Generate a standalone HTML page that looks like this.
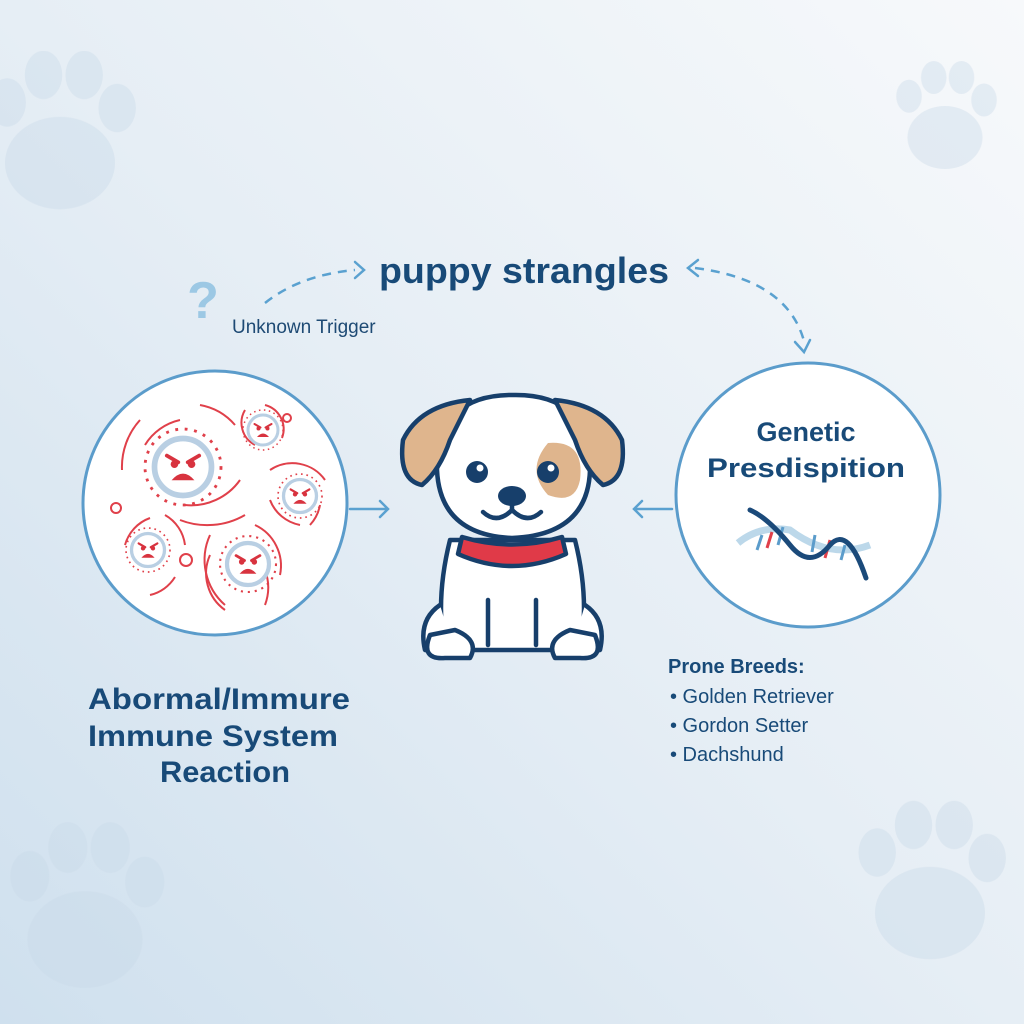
<!DOCTYPE html>
<html><head><meta charset="utf-8"><style>
html,body{margin:0;padding:0;width:1024px;height:1024px;overflow:hidden}
svg{display:block}
text{font-family:"Liberation Sans",sans-serif}
</style></head><body>
<svg width="1024" height="1024" viewBox="0 0 1024 1024" xmlns="http://www.w3.org/2000/svg">
<defs>
<linearGradient id="bg" x1="1" y1="0" x2="0" y2="1">
<stop offset="0" stop-color="#f7f9fb"/><stop offset="0.5" stop-color="#e6eef5"/><stop offset="1" stop-color="#cfe0ee"/>
</linearGradient>
<g id="paw"><ellipse cx="0" cy="30" rx="50" ry="42"/><ellipse cx="-48" cy="-25" rx="17" ry="22"/><ellipse cx="-15" cy="-50" rx="17" ry="22"/><ellipse cx="22" cy="-50" rx="17" ry="22"/><ellipse cx="52" cy="-20" rx="17" ry="22"/></g>
<g id="virus">
<circle r="30" fill="#fff" stroke="#b9cfe3" stroke-width="6"/>
<g stroke="#e0404a" stroke-width="3" stroke-dasharray="3 7"><circle r="40" fill="none"/></g>
<path d="M-17,-12 L-5,-5 M17,-12 L5,-5" stroke="#d8333f" stroke-width="4" stroke-linecap="round"/>
<circle cx="-9" cy="-3" r="4" fill="#d8333f"/><circle cx="9" cy="-3" r="4" fill="#d8333f"/>
<path d="M-12,14 Q0,0 12,14 Z" fill="#d8333f"/>
</g>
</defs>
<rect width="1024" height="1024" fill="url(#bg)"/>
<g fill="#c9d9e8" opacity="0.4">
<use href="#paw" transform="translate(60,130) scale(1.1)"/>
<use href="#paw" transform="translate(945,115) scale(0.75)"/>
<use href="#paw" transform="translate(85,905) scale(1.15)"/>
<use href="#paw" transform="translate(930,880) scale(1.1)"/>
</g>

<!-- title -->
<text x="524" y="283" text-anchor="middle" font-size="36" font-weight="bold" fill="#184a78" textLength="290" lengthAdjust="spacingAndGlyphs">puppy strangles</text>
<text x="203" y="318" text-anchor="middle" font-size="52" font-weight="bold" fill="#9cc8e4">?</text>
<text x="232" y="333" font-size="19" fill="#1e4a74">Unknown Trigger</text>
<g fill="none" stroke="#5aa1d0" stroke-width="2.5" stroke-dasharray="9 7">
<path d="M265,303 Q300,275 355,270"/>
<path d="M695,268 Q790,280 805,345"/>
</g>
<g fill="none" stroke="#5aa1d0" stroke-width="2.5" stroke-linecap="round">
<path d="M355,262 L364,270 L355,278"/>
<path d="M698,260 L688,268 L698,276"/>
<path d="M795,342 L804,352 L810,340"/>
<path d="M350,509 L388,509 M380,501 L388,509 L380,517"/>
<path d="M672,509 L634,509 M642,501 L634,509 L642,517"/>
</g>

<!-- left circle -->
<circle cx="215" cy="503" r="132" fill="#fff" stroke="#5b9ccb" stroke-width="3"/>
<g fill="none" stroke="#e0404a" stroke-width="2">
<path d="M145,445 A55,55 0 0 1 180,420"/><path d="M122,470 A70,70 0 0 1 140,420"/>
<path d="M200,405 A60,60 0 0 1 235,425"/><path d="M240,480 A60,60 0 0 1 185,505"/>
<path d="M180,520 A75,75 0 0 0 245,515"/><path d="M245,410 A25,25 0 0 0 255,445"/>
<path d="M265,405 A25,25 0 0 1 282,438"/><path d="M270,470 A40,40 0 0 1 325,480"/>
<path d="M270,500 A40,40 0 0 0 300,525"/><path d="M320,505 A40,40 0 0 1 310,525"/>
<path d="M125,545 A40,40 0 0 1 150,518"/><path d="M165,515 A40,40 0 0 1 185,545"/>
<path d="M175,577 A40,40 0 0 1 150,595"/><path d="M210,535 A60,60 0 0 0 225,605"/>
<path d="M255,525 A45,45 0 0 1 280,575"/><path d="M265,570 A50,50 0 0 1 265,605"/><path d="M210,555 A45,45 0 0 0 225,610"/>
</g>
<circle cx="116" cy="508" r="5" fill="none" stroke="#e0404a" stroke-width="2"/>
<circle cx="186" cy="560" r="6" fill="none" stroke="#e0404a" stroke-width="2"/>
<circle cx="287" cy="418" r="4" fill="none" stroke="#e0404a" stroke-width="2"/>
<use href="#virus" transform="translate(183,467) scale(0.95)"/>
<use href="#virus" transform="translate(263,430) scale(0.5)"/>
<use href="#virus" transform="translate(300,496) scale(0.55)"/>
<use href="#virus" transform="translate(148,550) scale(0.55)"/>
<use href="#virus" transform="translate(248,564) scale(0.7)"/>

<text font-size="30" font-weight="bold" fill="#184a78">
<tspan x="88" y="709" textLength="262" lengthAdjust="spacingAndGlyphs">Abormal/Immure</tspan><tspan x="88" y="746" textLength="250" lengthAdjust="spacingAndGlyphs">Immune System</tspan><tspan x="160" y="782" textLength="130" lengthAdjust="spacingAndGlyphs">Reaction</tspan></text>

<!-- right circle -->
<circle cx="808" cy="495" r="132" fill="#fff" stroke="#5b9ccb" stroke-width="3"/>
<text font-size="27" font-weight="bold" fill="#184a78" text-anchor="middle"><tspan x="806" y="441">Genetic</tspan><tspan x="806" y="477" textLength="198" lengthAdjust="spacingAndGlyphs">Presdispition</tspan></text>
<path d="M738,543 Q760,525 790,530 Q830,560 870,545" fill="none" stroke="#bcd8ea" stroke-width="7"/>
<g stroke-width="3"><path d="M762,535 L757,550 M783,527 L778,545" stroke="#5b9ccb"/><path d="M772,532 L767,548 M830,540 L825,558" stroke="#e0404a"/><path d="M815,535 L812,552 M845,545 L841,560" stroke="#5b9ccb"/></g>
<path d="M750,510 Q768,518 790,545 Q810,570 830,545 Q848,525 866,578" fill="none" stroke="#1b4a7a" stroke-width="5" stroke-linecap="round"/>

<text font-size="20" fill="#184a78"><tspan x="668" y="673" font-weight="bold">Prone Breeds:</tspan>
<tspan x="670" y="703">•  Golden Retriever</tspan><tspan x="670" y="732">•  Gordon Setter</tspan><tspan x="670" y="761">•  Dachshund</tspan></text>

<!-- dog -->
<g stroke="#173f6b" stroke-width="4.5" stroke-linejoin="round" stroke-linecap="round">
<path d="M450,540 Q435,600 445,650 L580,650 Q590,600 575,540 Z" fill="#fff"/>
<path d="M440,605 Q418,620 425,650 L455,655" fill="#fff"/>
<path d="M585,605 Q607,620 600,650 L570,655" fill="#fff"/>
<path d="M430,635 Q420,660 445,658 L470,658 Q480,640 455,630 Z" fill="#fff"/>
<path d="M595,635 Q605,660 580,658 L555,658 Q545,640 570,630 Z" fill="#fff"/>
<path d="M462,537 Q512,552 562,537 L566,554 Q512,578 458,554 Z" fill="#e03a48"/>
<path d="M512,395 Q590,393 590,470 Q588,535 512,538 Q440,535 437,470 Q437,395 512,395 Z" fill="#fff"/>
</g>
<path d="M548,443 Q585,440 580,480 Q575,505 548,495 Q525,470 548,443 Z" fill="#dfb58d"/>
<g stroke="#173f6b" stroke-width="4.5" stroke-linejoin="round" stroke-linecap="round">
<path d="M470,400 Q420,405 403,440 Q398,480 422,485 Q440,470 450,440 Z" fill="#dfb58d"/>
<path d="M555,400 Q605,405 622,440 Q627,480 603,485 Q585,470 575,440 Z" fill="#dfb58d"/>
<path d="M483,512 Q497,525 512,510 Q527,525 541,512" fill="none"/>
<path d="M512,505 L512,510" fill="none"/>
<path d="M488,600 L488,645 M536,600 L536,645" fill="none"/>
</g>
<circle cx="477" cy="472" r="11" fill="#173f6b"/><circle cx="480" cy="468" r="3.5" fill="#fff"/>
<circle cx="548" cy="472" r="11" fill="#173f6b"/><circle cx="551" cy="468" r="3.5" fill="#fff"/>
<ellipse cx="512" cy="496" rx="14" ry="10" fill="#173f6b"/>
</svg>
</body></html>
